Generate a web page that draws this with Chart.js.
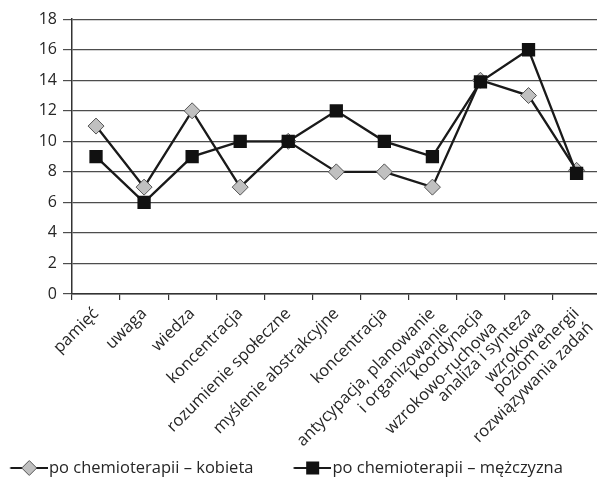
<!DOCTYPE html>
<html>
<head>
<meta charset="utf-8">
<script src="https://cdn.jsdelivr.net/npm/chart.js@4.4.1/dist/chart.umd.min.js"></script>
<style>
  html, body { margin: 0; padding: 0; background: #ffffff; overflow: hidden; }
  #wrap { width: 610px; height: 482px; position: relative; }
</style>
</head>
<body>
<div id="wrap"><canvas id="chart"></canvas></div>
<script>
// Categories (multi-line labels are arrays)
const categories = [
  'pamięć',
  'uwaga',
  'wiedza',
  'koncentracja',
  'rozumienie społeczne',
  'myślenie abstrakcyjne',
  'koncentracja',
  ['antycypacja, planowanie', 'i organizowanie'],
  ['koordynacja', 'wzrokowo-ruchowa'],
  ['analiza i synteza', 'wzrokowa'],
  ['poziom energii', 'rozwiązywania zadań']
];

const seriesNames = ['po chemioterapii – kobieta', 'po chemioterapii – mężczyzna'];
const valuesKobieta = [11, 7, 12, 7, 10, 8, 8, 7, 14, 13, 8.1];
const valuesMezczyzna = [9, 6, 9, 10, 10, 12, 10, 9, 13.9, 16, 7.9];

const yMin = 0;
const yMax = 18;
const yStep = 2;

const FONT = '"Open Sans", "Noto Sans", sans-serif';
const TEXT = '#262626';
const LINE = '#1a1a1a';
const GRID = '#4d4d4d';

// Legend swatches: a short line with the series marker on it,
// drawn at the right end of a wider transparent image
const SW_W = 54.5;
function swatch(kind) {
  const c = document.createElement('canvas');
  c.width = SW_W; c.height = 18;
  const g = c.getContext('2d');
  const x0 = SW_W - 38;
  g.strokeStyle = LINE; g.lineWidth = 2.2;
  g.beginPath(); g.moveTo(x0, 9); g.lineTo(x0 + 38, 9); g.stroke();
  if (kind === 'diamond') {
    g.beginPath();
    g.moveTo(x0 + 19, 1.5); g.lineTo(x0 + 26.5, 9); g.lineTo(x0 + 19, 16.5); g.lineTo(x0 + 11.5, 9); g.closePath();
    g.fillStyle = '#c0c0c0'; g.fill();
    g.lineWidth = 1; g.strokeStyle = '#555'; g.stroke();
  } else {
    g.fillStyle = '#111'; g.fillRect(x0 + 12.5, 2.5, 13, 13);
  }
  return c;
}
const legendIcons = [swatch('diamond'), swatch('square')];

// Let the long rotated category labels run down past the axis box
const labelRoom = {
  id: 'labelRoom',
  afterLayout(chart) {
    chart.scales.x.bottom = chart.height;
  }
};

new Chart(document.getElementById('chart'), {
  type: 'line',
  data: {
    labels: categories,
    datasets: [
      {
        label: seriesNames[0],
        data: valuesKobieta,
        borderColor: LINE,
        borderWidth: 2.3,
        pointStyle: 'rectRot',
        pointRadius: 8,
        pointBackgroundColor: '#c0c0c0',
        pointBorderColor: '#555555',
        pointBorderWidth: 1,
        tension: 0,
        order: 1
      },
      {
        label: seriesNames[1],
        data: valuesMezczyzna,
        borderColor: LINE,
        borderWidth: 2.3,
        pointStyle: 'rect',
        pointRadius: 9.4,
        pointBackgroundColor: '#111111',
        pointBorderColor: '#111111',
        pointBorderWidth: 0,
        tension: 0,
        order: 0
      }
    ]
  },
  plugins: [labelRoom],
  options: {
    responsive: true,
    maintainAspectRatio: false,
    animation: false,
    layout: { padding: { left: -30, right: 9, top: 19.2, bottom: -4.25 } },
    plugins: {
      tooltip: { enabled: false },
      legend: {
        position: 'bottom',
        align: 'start',
        labels: {
          usePointStyle: true,
          pointStyleWidth: 40,
          padding: 30.75,
          color: TEXT,
          font: { family: FONT, size: 16.5 },
          generateLabels: () => seriesNames.map((name, i) => ({
            text: name,
            pointStyle: legendIcons[i],
            fillStyle: '#000',
            strokeStyle: '#000',
            lineWidth: 0,
            hidden: false,
            datasetIndex: i,
            fontColor: TEXT
          }))
        }
      }
    },
    scales: {
      x: {
        type: 'category',
        offset: true,
        grid: {
          offset: true,
          drawOnChartArea: false,
          drawTicks: true,
          tickLength: 6,
          color: '#333',
          lineWidth: 1.2
        },
        border: { display: true, color: '#333', width: 1.5 },
        ticks: {
          autoSkip: true,
          autoSkipPadding: -24,
          maxRotation: 45,
          minRotation: 45,
          padding: 4,
          color: TEXT,
          font: { family: FONT, size: 16.5 }
        },
        afterFit: (scale) => { scale.height = 135; }
      },
      y: {
        min: yMin,
        max: yMax,
        ticks: {
          stepSize: yStep,
          padding: 6,
          color: TEXT,
          font: { family: FONT, size: 16 }
        },
        grid: {
          color: GRID,
          lineWidth: 1.2,
          tickLength: 9
        },
        border: { display: true, color: '#333', width: 1.5 },
        afterFit: (scale) => { scale.width = 102; }
      }
    }
  }
});
</script>
</body>
</html>
